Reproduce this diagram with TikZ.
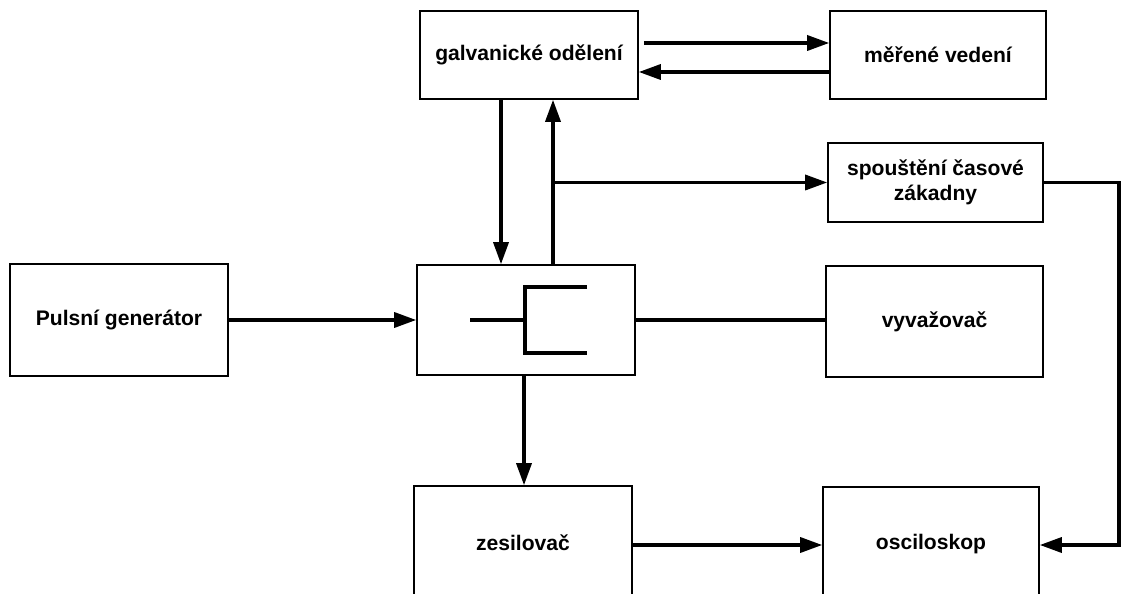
\documentclass[tikz,border=0pt]{standalone}
\usepackage{fontspec}
\setmainfont{Liberation Sans}
\usetikzlibrary{arrows.meta,calc}
\begin{document}
\begin{tikzpicture}[x=0.02cm,y=-0.02cm,
  box/.style={draw, line width=0.9pt, inner sep=0pt, align=center,
    font=\fontsize{12}{14.5}\selectfont\bfseries},
  conn/.style={line width=1.9pt},
  arr/.style={conn, -{Triangle[length=0.44cm,width=0.3cm]}},
  sym/.style={line width=2.4pt}]
\useasboundingbox (0,0) rectangle (1122,594);
\clip (0,0) rectangle (1122,594);
\node[box, minimum width=4.36cm, minimum height=2.24cm] (puls) at (119,320) {Pulsní generátor};
\node[box, minimum width=4.36cm, minimum height=2.2cm] (hyb) at (526,320) {};
\node[box, minimum width=4.36cm, minimum height=1.76cm] (galv) at (529,55) {galvanické odělení};
\node[box, minimum width=4.32cm, minimum height=1.76cm] (mer) at (938,55) {měřené vedení};
\node[box, minimum width=4.3cm, minimum height=1.58cm] (spou) at (935.5,182.5) {spouštění časové\\zákadny};
\node[box, minimum width=4.34cm, minimum height=2.22cm] (vyv) at (934.5,321.5) {vyvažovač};
\node[box, minimum width=4.36cm, minimum height=2.28cm] (zes) at (523,543) {zesilovač};
\node[box, minimum width=4.32cm, minimum height=2.28cm] (osc) at (931,544) {osciloskop};
% symbol inside the central box
\draw[sym] ($(hyb.center)+(-56,0)$) -- ($(hyb.center)+(-1,0)$);
\draw[sym] ($(hyb.center)+(61,-33)$) -- ($(hyb.center)+(-1,-33)$) -- ($(hyb.center)+(-1,33)$) -- ($(hyb.center)+(61,33)$);
% helper coordinates
\coordinate (xd) at (501,0);
\coordinate (xu) at (553,0);
\coordinate (xz) at (524,0);
\coordinate (xr) at (1119,0);
\coordinate (ya) at (0,43);
\coordinate (yb) at (0,72);
\coordinate (yo) at (0,545);
% connectors
\draw[arr] (puls) -- (hyb);
\draw[arr] (galv.south -| xd) -- (hyb.north -| xd);
\draw[arr] (hyb.north -| xu) -- (galv.south -| xu);
\draw[arr] (xu |- spou.west) -- (spou.west);
\draw[arr] ([xshift=0.1cm]galv.east |- ya) -- (mer.west |- ya);
\draw[arr] (mer.west |- yb) -- (galv.east |- yb);
\draw[conn] (hyb.east) -- (hyb.east -| vyv.west);
\draw[arr] (hyb.south -| xz) -- (zes.north -| xz);
\draw[arr] (zes.east |- yo) -- (osc.west |- yo);
\draw[arr] (spou.east) -- (spou.east -| xr) -- (xr |- yo) -- (osc.east |- yo);
\end{tikzpicture}
\end{document}
